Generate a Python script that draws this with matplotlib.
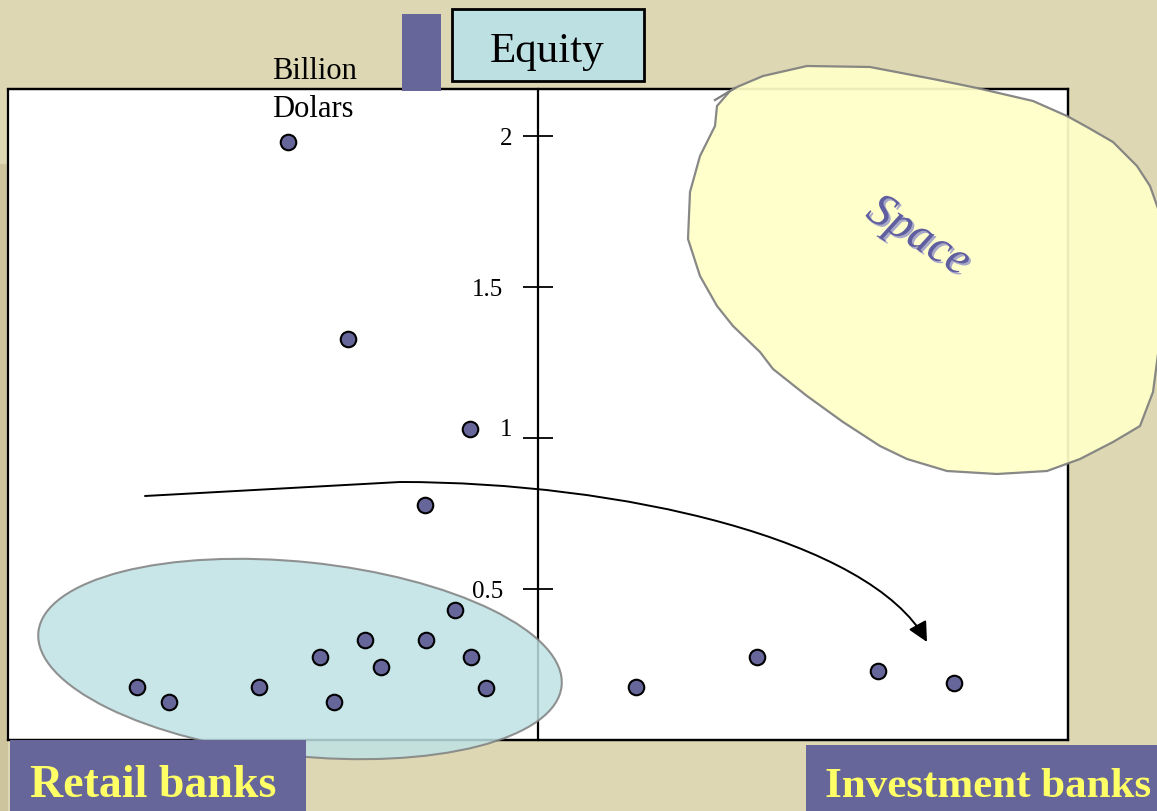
import numpy as np
import matplotlib
matplotlib.use('Agg')
import matplotlib.pyplot as plt
from matplotlib.patches import Rectangle, Ellipse, Polygon, FancyArrowPatch
from matplotlib.lines import Line2D
from matplotlib.path import Path
from matplotlib.transforms import Affine2D, ScaledTranslation
import matplotlib.patheffects as pe

###############################################################################

W, H = 1157, 812

# banks left of the axis (retail side) - position, equity (billion dollars)
left_x  = [-0.756, -0.697, -0.527, -0.412, -0.384, -0.327, -0.297, -0.212,
           -0.156, -0.127, -0.098, -0.471, -0.358, -0.129, -0.214]
left_eq = [0.177, 0.127, 0.177, 0.276, 0.127, 0.330, 0.240, 0.330,
           0.429, 0.276, 0.171, 1.979, 1.329, 1.028, 0.777]

# banks right of the axis (investment side)
right_x  = [0.184, 0.414, 0.642, 0.785]
right_eq = [0.177, 0.276, 0.227, 0.190]

yticks = [0.5, 1, 1.5, 2]
ytick_labels = ['0.5', '1', '1.5', '2']

PURPLE = '#66669a'
YELLOW = '#ffff66'

###############################################################################

plt.rcParams['font.family'] = ['Liberation Serif', 'DejaVu Serif']

fig = plt.figure(figsize=(W/100, H/100), dpi=100, facecolor='#ddd8b3')
# slide pixel coords (origin top left)
pix = Affine2D().scale(1.0/W, -1.0/H).translate(0, 1) + fig.transFigure

# darker slide margin on the left
fig.add_artist(Rectangle((0, 165), 8, H-165, transform=pix, fc='#cdc49e', ec='none', zorder=-1))

ax = fig.add_axes([8/W, 1-741/H, 1060/W, 651/H], facecolor='white')
ax.set_xlim(-1, 1)
ax.set_ylim(0, 2.155)

for s in ['top', 'right', 'bottom']:
    ax.spines[s].set_linewidth(1.6)
ax.spines['left'].set_position(('data', 0))
ax.spines['left'].set_linewidth(1.6)
ax.add_patch(Rectangle((0, 0), 1, 1, transform=ax.transAxes, fill=False,
                       lw=1.6, ec='black', clip_on=False, zorder=2.5))
ax.set_xticks([])
ax.set_yticks(yticks, ytick_labels)
ax.tick_params(axis='y', direction='inout', length=22, width=1.3, pad=14,
               labelsize=18)

# whole-number labels sit a bit further right in the original ("1" also higher)
shifts = {1: (9, 11), 2: (9, 0)}
for tick, val in zip(ax.yaxis.get_major_ticks(), yticks):
    if val in shifts:
        dx, dy = shifts[val]
        tick.label1.set_transform(tick.label1.get_transform() +
                                  ScaledTranslation(dx/100, dy/100, fig.dpi_scale_trans))

# retail cluster
ax.add_patch(Ellipse((300, 660), 526, 194, angle=5.9, transform=pix,
                     fc='#bfe2e4', ec='#808080', lw=1.5, alpha=0.85,
                     zorder=3, clip_on=False))

ax.scatter(left_x, left_eq, s=125, c=PURPLE, edgecolors='black',
           linewidths=1.5, zorder=4, clip_on=False)
ax.scatter(right_x, right_eq, s=125, c=PURPLE, edgecolors='black',
           linewidths=1.5, zorder=4, clip_on=False)

# the move from retail to investment
arrow_path = Path([(145, 497), (400, 483), (620, 483), (870, 540), (927, 643)],
                  [Path.MOVETO, Path.LINETO, Path.CURVE4, Path.CURVE4, Path.CURVE4])
fig.add_artist(FancyArrowPatch(path=arrow_path, transform=pix,
                               arrowstyle='-|>,head_length=0.8,head_width=0.4',
                               mutation_scale=15, color='black', lw=1.4, zorder=3))

# "Space" blob
blob = [(737, 88), (763, 77), (807, 67), (870, 68), (933, 80),
        (977, 89), (1033, 102), (1067, 117), (1087, 128), (1113, 143),
        (1137, 167), (1150, 187), (1160, 215), (1162, 270), (1160, 340),
        (1153, 393), (1140, 427), (1113, 443), (1080, 460), (1047, 472),
        (997, 475), (947, 472), (907, 460), (880, 447), (843, 423),
        (807, 397), (773, 370), (760, 353), (733, 327), (717, 307),
        (700, 277), (688, 240), (690, 193), (700, 157), (715, 127),
        (717, 107), (730, 92)]
fig.add_artist(Polygon(blob, closed=True, transform=pix, fc='#ffffc8',
                       ec='#7f7f7f', lw=1.6, alpha=0.93, zorder=2))
fig.add_artist(Line2D([715, 735], [101, 89], transform=pix, color='#7f7f7f',
                      lw=1.6, zorder=2))
fig.text(918, 238, 'Space', transform=pix, rotation=-32, rotation_mode='anchor',
         ha='center', va='center', fontsize=34, style='italic', color='#5f5fa0',
         path_effects=[pe.SimplePatchShadow(offset=(1.5, -1.5),
                                            shadow_rgbFace='#a8a8c8', alpha=1.0),
                       pe.Normal()], zorder=3)

# title box
fig.add_artist(Rectangle((402, 15), 39, 77, transform=pix, fc=PURPLE, ec='none', zorder=3))
fig.add_artist(Rectangle((452, 10), 192, 72, transform=pix, fc='#bde0e3',
                         ec='black', lw=2, zorder=3))
fig.text(547, 62, 'Equity', transform=pix, ha='center', va='baseline',
         fontsize=31, zorder=4)

fig.text(272, 79, 'Billion', transform=pix, ha='left', va='baseline', fontsize=22)
fig.text(272, 117, 'Dolars', transform=pix, ha='left', va='baseline', fontsize=22)

# group labels
fig.add_artist(Rectangle((10, 741), 296, 80, transform=pix, fc=PURPLE, ec='none', zorder=3))
fig.text(30, 797, 'Retail banks', transform=pix, ha='left', va='baseline',
         fontsize=33, fontweight='bold', color=YELLOW, zorder=4)
fig.add_artist(Rectangle((806, 746), 360, 80, transform=pix, fc=PURPLE, ec='none', zorder=3))
fig.text(825, 797, 'Investment banks', transform=pix, ha='left', va='baseline',
         fontsize=31, fontweight='bold', color=YELLOW, zorder=4)

fig.savefig('out.png', dpi=100, facecolor=fig.get_facecolor())
